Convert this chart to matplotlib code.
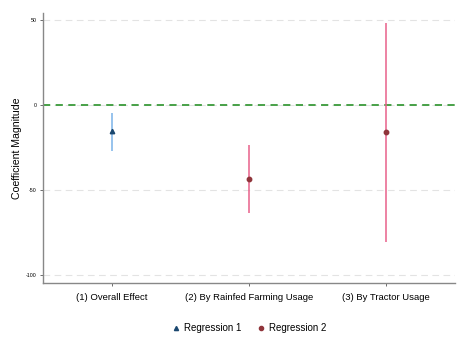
import matplotlib
matplotlib.use("Agg")
import matplotlib.pyplot as plt
from matplotlib.lines import Line2D

plt.rcParams['font.family'] = ['Liberation Sans', 'DejaVu Sans']

categories = ["(1) Overall Effect", "(2) By Rainfed Farming Usage", "(3) By Tractor Usage"]
yticks = [50, 0, -50, -100]

reg1_x = [1]
reg1_coef = [-15.3]
reg1_lo = [-27.0]
reg1_hi = [-4.7]

reg2_x = [2, 3]
reg2_coef = [-43.7, -16.1]
reg2_lo = [-63.7, -80.4]
reg2_hi = [-23.5, 48.4]

fig = plt.figure(figsize=(4.65, 3.56), dpi=100)
ax = fig.add_axes([0.0925, 0.205, 0.8855, 0.758])

for y in yticks:
    ax.axhline(y, color="#e3e3e3", lw=0.8, ls=(0, (6, 4)), zorder=0)
ax.axhline(0, color="#3a9a3a", lw=1.3, ls=(0, (4, 3)), zorder=1)

ax.vlines(reg1_x, reg1_lo, reg1_hi, color="#7ab3e8", lw=1.1, zorder=2)
ax.plot(reg1_x, reg1_coef, ls="none", marker="^", ms=3.2, color="#1a476f", zorder=3)
ax.vlines(reg2_x, reg2_lo, reg2_hi, color="#e8608a", lw=1.1, zorder=2)
ax.plot(reg2_x, reg2_coef, ls="none", marker="o", ms=3.2, color="#90353b", zorder=3)

ax.set_xlim(0.5, 3.5)
ax.set_ylim(-104.7, 54)
ax.set_xticks([1, 2, 3])
ax.set_xticklabels(categories, fontsize=6.8)
ax.set_yticks(yticks)
ax.set_yticklabels([str(v) for v in yticks], fontsize=3.8)
ax.tick_params(axis="both", length=2.5, width=0.6, color="#555555")
ax.tick_params(axis="x", pad=5)
ax.tick_params(axis="y", pad=2)
ax.set_ylabel("Coefficient Magnitude", fontsize=7.6)
ax.yaxis.set_label_coords(-0.05, 0.5)
for s in ["top", "right"]:
    ax.spines[s].set_visible(False)
for s in ["left", "bottom"]:
    ax.spines[s].set_color("#888888")
    ax.spines[s].set_linewidth(1.0)

handles = [Line2D([], [], ls="none", marker="^", ms=3, color="#1a476f"),
           Line2D([], [], ls="none", marker="o", ms=3, color="#90353b")]
fig.legend(handles, ["Regression 1", "Regression 2"], loc="center",
           bbox_to_anchor=(0.535, 0.078), ncol=2, frameon=False, fontsize=7,
           handletextpad=0.3, columnspacing=1.5, handlelength=1.0)

fig.savefig("out.png", dpi=100)
